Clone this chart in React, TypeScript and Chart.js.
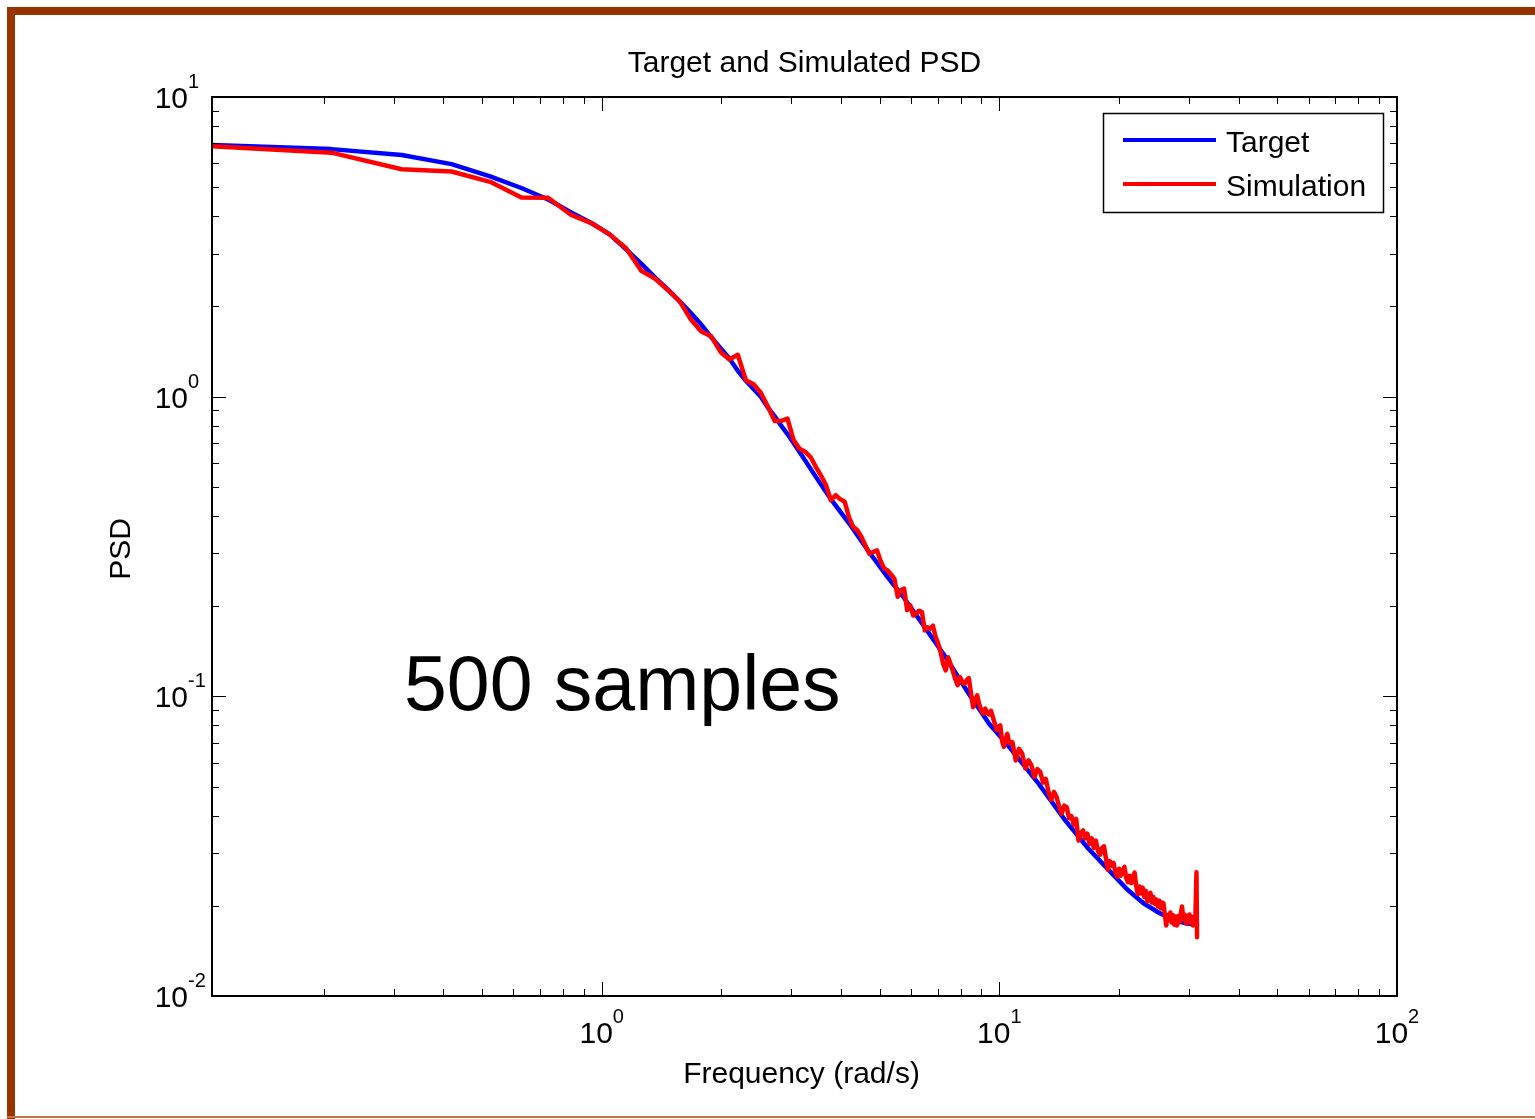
import React, { useEffect, useRef } from "react";
import { Chart, registerables } from "chart.js";

Chart.register(...registerables);

// ---------------- DATA ----------------
const targetFreq = [
  0.1047, 0.209, 0.314, 0.419, 0.524, 0.628, 0.733, 0.838, 0.942, 1.047,
  1.152, 1.257, 1.361, 1.466, 1.571, 1.676, 1.78, 1.885, 1.99, 2.094,
  2.199, 2.304, 2.409, 2.513, 2.618, 2.723, 2.827, 2.932, 3.037, 3.142,
  3.456, 3.77, 4.189, 4.712, 5.236, 5.76, 6.283, 7.33, 8.378, 9.425,
  10.472, 12.566, 14.661, 16.755, 18.85, 20.944, 23.038, 25.133, 27.227, 29.322,
  31.416,
];
const targetPsd = [
  6.92, 6.7, 6.4, 5.97, 5.43, 4.97, 4.55, 4.12, 3.8, 3.48,
  3.1, 2.78, 2.5, 2.28, 2.08, 1.9, 1.74, 1.58, 1.45, 1.34,
  1.22, 1.13, 1.06, 1.0, 0.92, 0.86, 0.8, 0.75, 0.7, 0.655,
  0.54, 0.455, 0.378, 0.302, 0.25, 0.213, 0.181, 0.135, 0.102, 0.081,
  0.069, 0.051, 0.0385, 0.031, 0.0263, 0.0227, 0.0204, 0.019, 0.018, 0.0175,
  0.0173,
];

// Simulated PSD: harmonics 1..100, then every other harmonic up to 300
const simFreq = [
  0.1047, 0.209, 0.314, 0.419, 0.524, 0.628, 0.733, 0.838, 0.942, 1.047,
  1.152, 1.257, 1.361, 1.466, 1.571, 1.676, 1.78, 1.885, 1.99, 2.094,
  2.199, 2.304, 2.409, 2.513, 2.618, 2.723, 2.827, 2.932, 3.037, 3.142,
  3.246, 3.351, 3.456, 3.56, 3.665, 3.77, 3.875, 3.979, 4.084, 4.189,
  4.294, 4.398, 4.503, 4.608, 4.712, 4.817, 4.922, 5.027, 5.131, 5.236,
  5.341, 5.445, 5.55, 5.655, 5.76, 5.864, 5.969, 6.074, 6.178, 6.283,
  6.388, 6.493, 6.597, 6.702, 6.807, 6.912, 7.016, 7.121, 7.226, 7.33,
  7.435, 7.54, 7.645, 7.749, 7.854, 7.959, 8.063, 8.168, 8.273, 8.378,
  8.482, 8.587, 8.692, 8.796, 8.901, 9.006, 9.111, 9.215, 9.32, 9.425,
  9.529, 9.634, 9.739, 9.844, 9.948, 10.053, 10.158, 10.263, 10.367, 10.472,
  10.577, 10.786, 10.996, 11.205, 11.414, 11.624, 11.833, 12.043, 12.252, 12.462,
  12.671, 12.881, 13.09, 13.299, 13.509, 13.718, 13.928, 14.137, 14.347, 14.556,
  14.766, 14.975, 15.184, 15.394, 15.603, 15.813, 16.022, 16.232, 16.441, 16.65,
  16.86, 17.069, 17.279, 17.488, 17.698, 17.907, 18.117, 18.326, 18.535, 18.745,
  18.954, 19.164, 19.373, 19.583, 19.792, 20.002, 20.211, 20.42, 20.63, 20.839,
  21.049, 21.258, 21.468, 21.677, 21.886, 22.096, 22.305, 22.515, 22.724, 22.934,
  23.143, 23.353, 23.562, 23.771, 23.981, 24.19, 24.4, 24.609, 24.819, 25.028,
  25.238, 25.447, 25.656, 25.866, 26.075, 26.285, 26.494, 26.704, 26.913, 27.122,
  27.332, 27.541, 27.751, 27.96, 28.17, 28.379, 28.589, 28.798, 29.007, 29.217,
  29.426, 29.636, 29.845, 30.055, 30.264, 30.474, 30.683, 30.893, 31.102, 31.311,
  31.416,
];
const simPsd = [
  6.85, 6.52, 5.74, 5.64, 5.21, 4.62, 4.61, 4.04, 3.79, 3.48,
  3.13, 2.63, 2.48, 2.27, 2.08, 1.81, 1.65, 1.59, 1.41, 1.33,
  1.38, 1.135, 1.1, 1.03, 0.925, 0.83, 0.83, 0.845, 0.716, 0.671,
  0.655, 0.629, 0.583, 0.545, 0.507, 0.451, 0.469, 0.455, 0.446, 0.395,
  0.367, 0.358, 0.34, 0.318, 0.299, 0.303, 0.307, 0.283, 0.267, 0.263,
  0.255, 0.247, 0.215, 0.226, 0.229, 0.194, 0.201, 0.186, 0.189, 0.193,
  0.191, 0.166, 0.17, 0.168, 0.172, 0.158, 0.15, 0.14, 0.128, 0.122,
  0.135, 0.128, 0.121, 0.114, 0.109, 0.116, 0.112, 0.11, 0.113, 0.115,
  0.103, 0.092, 0.097, 0.1007, 0.094, 0.09, 0.0875, 0.091, 0.088, 0.087,
  0.0895, 0.085, 0.081, 0.0771, 0.079, 0.08, 0.071, 0.0678, 0.072, 0.075,
  0.07, 0.0703, 0.0611, 0.0668, 0.0644, 0.0574, 0.0612, 0.0588, 0.0538, 0.0572,
  0.056, 0.0515, 0.053, 0.0478, 0.0452, 0.048, 0.0461, 0.0428, 0.0406, 0.0432,
  0.0427, 0.0392, 0.0398, 0.0372, 0.039, 0.033, 0.035, 0.0357, 0.0336, 0.0348,
  0.0322, 0.0336, 0.0312, 0.033, 0.0305, 0.0296, 0.0312, 0.0316, 0.0288, 0.0264,
  0.0282, 0.0272, 0.0278, 0.0258, 0.025, 0.0266, 0.0252, 0.026, 0.027, 0.0248,
  0.024, 0.0252, 0.0238, 0.025, 0.0258, 0.0232, 0.0219, 0.0232, 0.022, 0.023,
  0.0214, 0.0224, 0.0207, 0.0216, 0.0221, 0.0205, 0.0214, 0.0203, 0.021, 0.0199,
  0.0208, 0.0196, 0.0205, 0.0204, 0.0186, 0.0172, 0.0186, 0.0179, 0.019, 0.0176,
  0.0186, 0.0173, 0.0184, 0.0172, 0.0185, 0.0176, 0.0188, 0.0199, 0.018, 0.0187,
  0.0175, 0.0185, 0.0176, 0.0187, 0.0175, 0.0184, 0.0172, 0.0182, 0.0176, 0.0259,
  0.0157,
];

const xTickExponents = [0, 1, 2];
const yTickExponents = [-2, -1, 0, 1];
const seriesNames = ["Target", "Simulation"];
const seriesColors = ["#0000ff", "#ff0000"];
const titleText = "Target and Simulated PSD";
const xLabel = "Frequency (rad/s)";
const yLabel = "PSD";
const noteText = "500 samples";

// ---------------- LAYOUT ----------------
const W = 1535;
const H = 1119;
const FONT = '"Liberation Sans", Arial, Helvetica, sans-serif';
const X_MIN = 0.1047;
const X_MAX = 100;
const Y_MIN = 0.01;
const Y_MAX = 10;

function drawPow(ctx: CanvasRenderingContext2D, exp: number, x: number, baseline: number, mode: "center" | "right") {
  ctx.font = `30px ${FONT}`;
  const w10 = ctx.measureText("10").width;
  const ex = String(exp);
  ctx.font = `20px ${FONT}`;
  const we = ctx.measureText(ex).width;
  const start = mode === "center" ? x - (w10 + we) / 2 : x - w10;
  ctx.textAlign = "left";
  ctx.textBaseline = "alphabetic";
  ctx.font = `30px ${FONT}`;
  ctx.fillText("10", start, baseline);
  ctx.font = `20px ${FONT}`;
  ctx.fillText(ex, start + w10, baseline - 20);
}

const matlabPlugin = {
  id: "matlabLook",
  beforeDraw(chart: any) {
    const ctx: CanvasRenderingContext2D = chart.ctx;
    ctx.save();
    ctx.fillStyle = "#ffffff";
    ctx.fillRect(0, 0, W, H);
    ctx.fillStyle = "#993300";
    ctx.fillRect(7, 7, W - 7, 8);
    ctx.fillRect(7, 7, 8, H - 7);
    ctx.fillStyle = "#c47148";
    ctx.fillRect(7, 1116, W - 7, 2);
    ctx.restore();
  },
  afterDatasetsDraw(chart: any) {
    const ctx: CanvasRenderingContext2D = chart.ctx;
    const { left, right, top, bottom } = chart.chartArea;
    const xs = chart.scales.x;
    const ys = chart.scales.y;
    ctx.save();

    // ticks
    ctx.strokeStyle = "#000";
    ctx.lineWidth = 1;
    ctx.beginPath();
    for (let d = -1; d <= 2; d++) {
      for (let m = 1; m <= 9; m++) {
        const v = m * Math.pow(10, d);
        if (v < X_MIN - 1e-9 || v > X_MAX + 1e-9) continue;
        const px = Math.round(xs.getPixelForValue(v)) + 0.5;
        const len = m === 1 ? 14 : 7;
        ctx.moveTo(px, bottom);
        ctx.lineTo(px, bottom - len);
        ctx.moveTo(px, top);
        ctx.lineTo(px, top + len);
      }
    }
    for (let d = -2; d <= 1; d++) {
      for (let m = 1; m <= 9; m++) {
        const v = m * Math.pow(10, d);
        if (v < Y_MIN - 1e-12 || v > Y_MAX + 1e-9) continue;
        const py = Math.round(ys.getPixelForValue(v)) + 0.5;
        const len = m === 1 ? 14 : 7;
        ctx.moveTo(left, py);
        ctx.lineTo(left + len, py);
        ctx.moveTo(right, py);
        ctx.lineTo(right - len, py);
      }
    }
    ctx.stroke();

    // box
    ctx.lineWidth = 2;
    ctx.strokeRect(left, top, right - left, bottom - top);

    // tick labels
    ctx.fillStyle = "#000";
    xTickExponents.forEach((e) => {
      const px = xs.getPixelForValue(Math.pow(10, e));
      drawPow(ctx, e, px, 1043, "center");
    });
    yTickExponents.forEach((e) => {
      const py = ys.getPixelForValue(Math.pow(10, e));
      drawPow(ctx, e, 188, py + 11, "right");
    });

    // title & axis labels
    ctx.font = `30px ${FONT}`;
    ctx.textAlign = "center";
    ctx.textBaseline = "alphabetic";
    const cx = (left + right) / 2;
    ctx.fillText(titleText, cx, 72);
    ctx.fillText(xLabel, cx - 3, 1083);
    ctx.save();
    ctx.translate(130, 549);
    ctx.rotate(-Math.PI / 2);
    ctx.fillText(yLabel, 0, 0);
    ctx.restore();

    // annotation
    ctx.font = `77px ${FONT}`;
    ctx.textAlign = "left";
    ctx.fillText(noteText, 404, 710);

    // legend
    ctx.fillStyle = "#fff";
    ctx.fillRect(1103, 113, 280, 99);
    ctx.strokeStyle = "#000";
    ctx.lineWidth = 1.5;
    ctx.strokeRect(1103.5, 113.5, 280, 99);
    const rows = [140, 184];
    const bases = [151.5, 196];
    seriesNames.forEach((name, i) => {
      ctx.strokeStyle = seriesColors[i];
      ctx.lineWidth = 4;
      ctx.beginPath();
      ctx.moveTo(1123, rows[i]);
      ctx.lineTo(1216, rows[i]);
      ctx.stroke();
      ctx.fillStyle = "#000";
      ctx.font = `30px ${FONT}`;
      ctx.textAlign = "left";
      ctx.fillText(name, 1226, bases[i]);
    });

    ctx.restore();
  },
};

export default function App() {
  const canvasRef = useRef<HTMLCanvasElement | null>(null);

  useEffect(() => {
    const canvas = canvasRef.current;
    if (!canvas) return;
    const chart = new Chart(canvas, {
      type: "line",
      data: {
        datasets: [
          {
            label: seriesNames[1],
            data: simFreq.map((f, i) => ({ x: f, y: simPsd[i] })),
            borderColor: seriesColors[1],
            borderWidth: 4.5,
            pointRadius: 0,
            tension: 0,
            borderJoinStyle: "round",
            borderCapStyle: "round",
            order: 0,
          },
          {
            label: seriesNames[0],
            data: targetFreq.map((f, i) => ({ x: f, y: targetPsd[i] })),
            borderColor: seriesColors[0],
            borderWidth: 4.5,
            pointRadius: 0,
            tension: 0,
            borderJoinStyle: "round",
            order: 1,
          },
        ],
      },
      options: {
        responsive: false,
        animation: false,
        devicePixelRatio: 1,
        events: [],
        layout: { padding: { left: 212, top: 97, right: W - 1397, bottom: H - 996 } },
        plugins: {
          legend: { display: false },
          title: { display: false },
          tooltip: { enabled: false },
        },
        scales: {
          x: { type: "logarithmic", min: X_MIN, max: X_MAX, display: false },
          y: { type: "logarithmic", min: Y_MIN, max: Y_MAX, display: false },
        },
      },
      plugins: [matlabPlugin],
    } as any);
    return () => chart.destroy();
  }, []);

  return (
    <div style={{ position: "absolute", left: 0, top: 0, width: W, height: H, background: "#fff" }}>
      <canvas ref={canvasRef} width={W} height={H} style={{ display: "block", width: W, height: H }} />
    </div>
  );
}
